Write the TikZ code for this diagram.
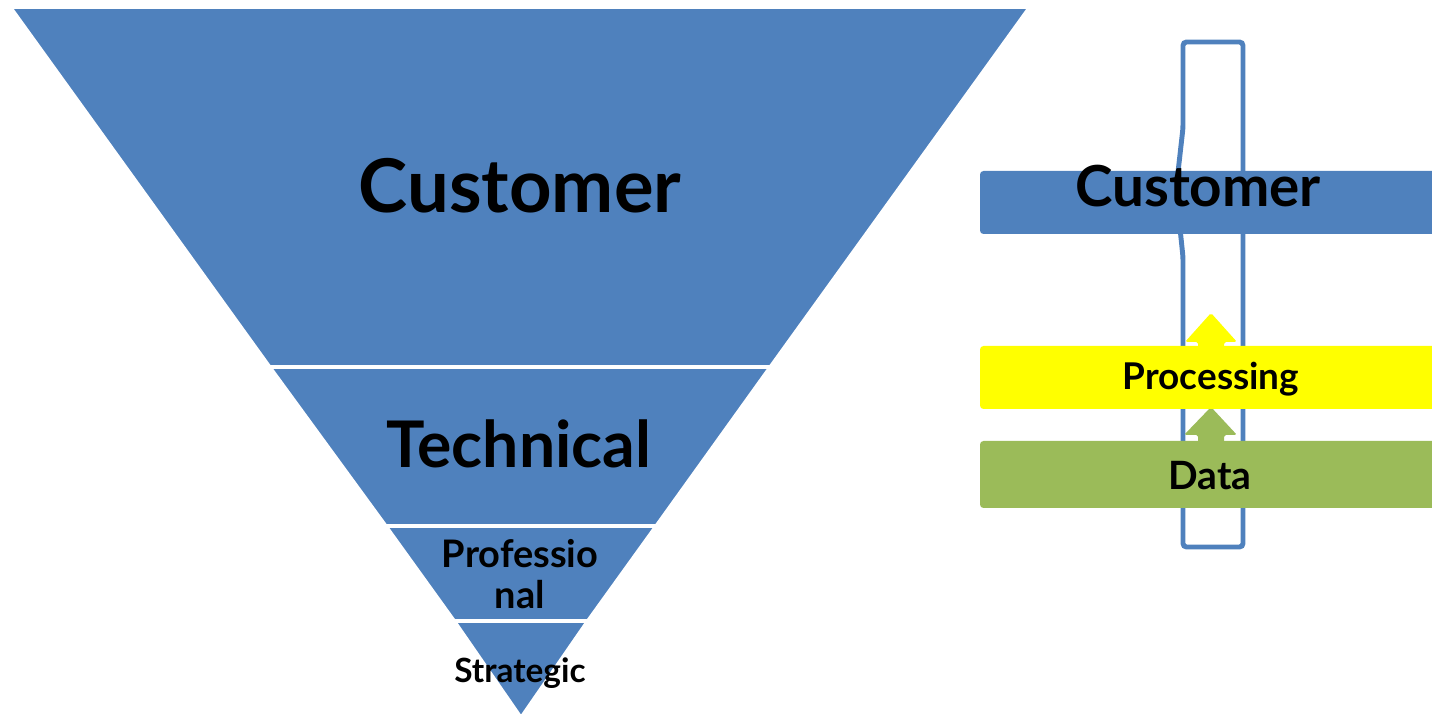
\documentclass[tikz,border=0pt]{standalone}
\usepackage{fontspec}
\setmainfont{Lato}
\definecolor{layerblue}{HTML}{4F81BD}
\definecolor{datagreen}{HTML}{9BBB59}
\definecolor{procyellow}{HTML}{FFFF00}

\begin{document}
\begin{tikzpicture}[x=0.1mm,y=-0.1mm,
  layer/.style={fill=layerblue,draw=white,line width=1.1pt,line join=round},
  bar/.style={rounded corners=1pt},
  lbl/.style={font=\bfseries,text=black,inner sep=0pt,anchor=base}]
\useasboundingbox (0,0) rectangle (1432,716);

% inverted pyramid
\path[layer] (10,7) -- (1030,7) -- (770.5,367) -- (269.5,367) -- cycle;
\path[layer] (269.5,367) -- (770.5,367) -- (656.4,526) -- (385.6,526) -- cycle;
\path[layer] (385.6,526) -- (656.4,526) -- (588,621) -- (454,621) -- cycle;
\path[layer] (454,621) -- (588,621) -- (521,718) -- cycle;

\node[lbl,font=\bfseries\fontsize{21.1}{24}\selectfont] (cust) at (520,213) {Customer};
\node[lbl,font=\bfseries\fontsize{18.3}{22}\selectfont] (tech) at (519,468) {Technical};
\node[lbl,font=\bfseries\fontsize{10.8}{11.6}\selectfont,align=center,anchor=center] (prof) at (520,574) {Professio\\nal};
\node[lbl,font=\bfseries\fontsize{9.5}{11}\selectfont] (strat) at (520,683) {Strategic};

% pipe behind the bars
\draw[layerblue,line width=1.4pt,rounded corners=1pt] (1183,128) -- (1183,42) -- (1243,42)
  -- (1243,547) -- (1183,547) -- (1183,257) -- (1176,190) -- cycle;

% arrow heads
\fill[procyellow,rounded corners=0.5pt] (1185,342) -- (1211,313) -- (1237,342) -- (1224,342)
  -- (1224,348) -- (1198,348) -- (1198,342) -- cycle;
\fill[datagreen,rounded corners=0.5pt] (1184,435) -- (1211,407) -- (1237,435) -- (1224,435)
  -- (1224,443) -- (1198,443) -- (1198,435) -- cycle;

% bars
\fill[layerblue,bar] (980,171) rectangle (1445,234);
\fill[procyellow,bar] (980,346) rectangle (1445,409);
\fill[datagreen,bar] (980,441) rectangle (1445,508);

\node[lbl,font=\bfseries\fontsize{16.1}{18}\selectfont] (custbar) at (1198,207) {Customer};
\node[lbl,font=\bfseries\fontsize{10.5}{12}\selectfont] (proc) at (1211,390) {Processing};
\node[lbl,font=\bfseries\fontsize{11.1}{13}\selectfont] (data) at (1210,490) {Data};
\end{tikzpicture}
\end{document}
